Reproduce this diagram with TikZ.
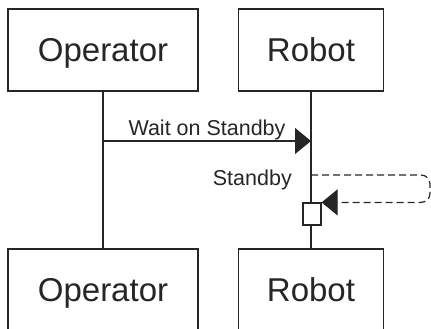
\documentclass[tikz,border=0pt]{standalone}
\usepackage{fontspec}
\setmainfont{Liberation Sans}
\usetikzlibrary{arrows.meta}
\definecolor{ink}{HTML}{262626}
\tikzset{
  actor/.style={draw=ink, line width=1.2pt, fill=white, minimum height=82pt, inner sep=0pt, text=ink, text height=23.5pt, text depth=0pt, font=\fontsize{33}{38}\selectfont},
  life/.style={draw=ink, line width=1.2pt},
  msg/.style={draw=ink, line width=1.2pt, -{Triangle[length=16pt,width=26pt]}},
  selfmsg/.style={msg, dash pattern=on 7pt off 4pt, rounded corners=9pt},
  lbl/.style={text=ink, font=\fontsize{21.5}{25}\selectfont, inner sep=0pt},
  actbox/.style={draw=ink, line width=1.2pt, fill=white, minimum width=18pt, minimum height=22pt, inner sep=0pt}
}
\begin{document}
\begin{tikzpicture}[x=1pt,y=-1pt]
\useasboundingbox (0,0) rectangle (431,329);
\clip (0,0) rectangle (431,329);
\node[actor, minimum width=190pt] (opt) at (103,50) {Operator};
\node[actor, minimum width=145pt] (rbt) at (311,50) {Robot};
\node[actor, minimum width=190pt] (opb) at (103,290) {Operator};
\node[actor, minimum width=145pt] (rbb) at (311,290) {Robot};
\draw[life] (opt.south) -- (opb.north);
\draw[life] (rbt.south) -- (rbb.north);
\node[actbox] (act) at (312,214) {};
\coordinate (m1s) at (103,141);
\coordinate (m1e) at (311,141);
\draw[msg] (m1s) -- (m1e);
\node[lbl, anchor=base] (l1) at (207,135) {Wait on Standby};
\coordinate (s1) at (311,175);
\coordinate (sr) at (430,175);
\draw[selfmsg] (s1) -- (sr) -- (sr |- act.north east) -- (act.north east);
\node[lbl, anchor=base east] (l2) at (292,185) {Standby};
\end{tikzpicture}
\end{document}
